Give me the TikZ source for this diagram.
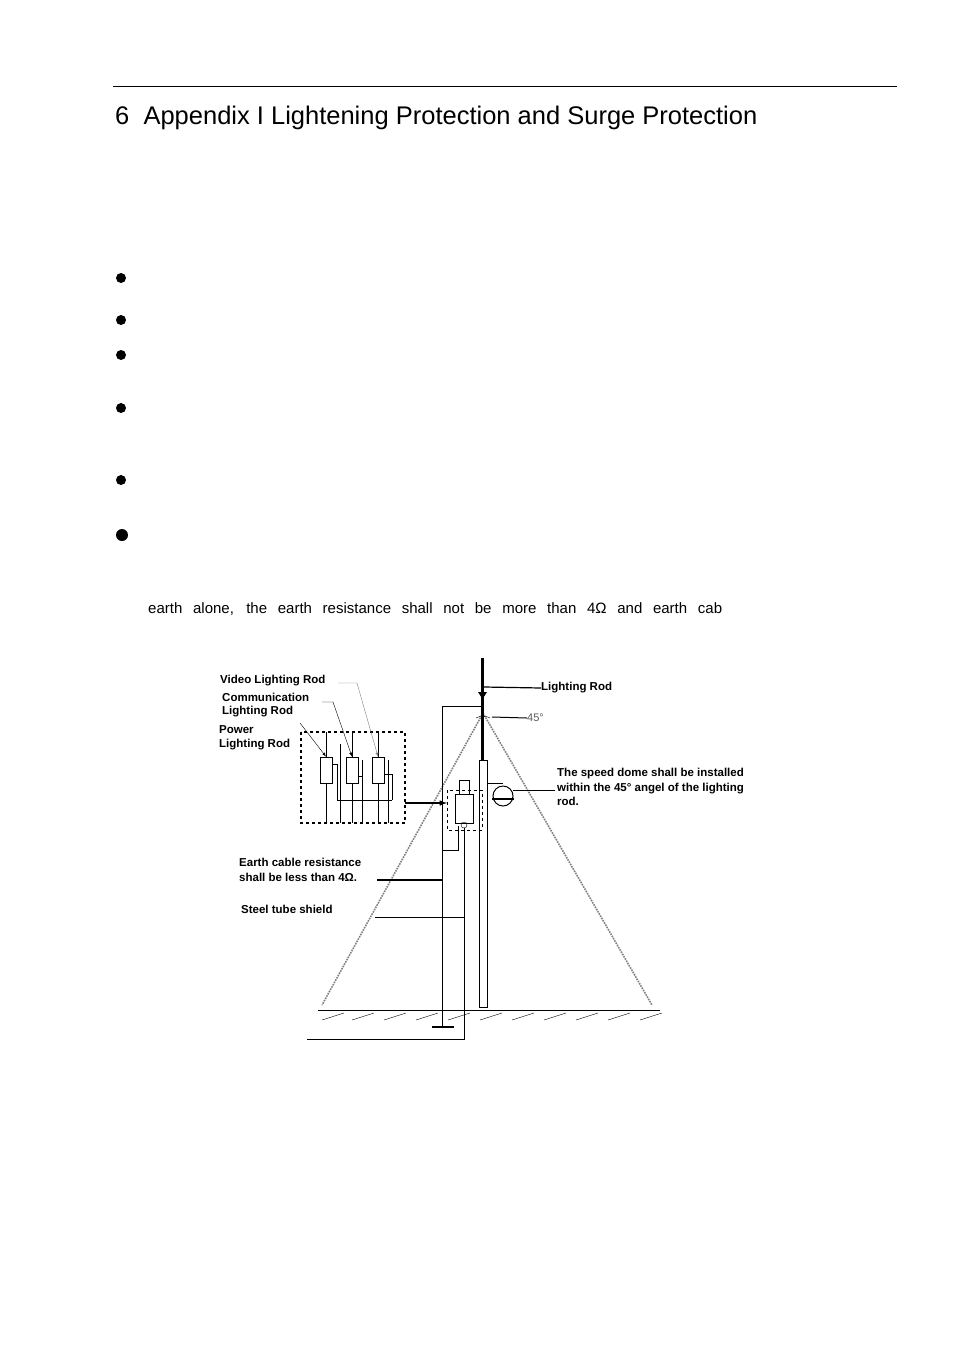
\documentclass[tikz,border=0pt]{standalone}
\usepackage{fontspec}
\setmainfont{Liberation Sans}
\begin{document}
\begin{tikzpicture}[x=1pt,y=-1pt,
  lbl/.style={font=\fontsize{11.5}{14.5}\selectfont\bfseries,anchor=west,inner sep=0pt},
  bul/.style={fill=black},
  dots/.style={gray,densely dotted,line width=1.6pt},
  rodbox/.style={draw,fill=white,line width=0.8pt}]
\useasboundingbox (0,0) rectangle (954,1350);
% header
\draw[line width=1pt] (113,86) -- (897,86);
\node[anchor=west,inner sep=0pt,font=\fontsize{25.5}{30}\selectfont] (title) at (115,118) {6\ \ Appendix I Lightening Protection and Surge Protection};
\foreach \yy in {278,320,355,408,480}{\fill[bul] (121,\yy) circle (5);}
\fill[bul] (122,535) circle (6);
\node[anchor=west,inner sep=0pt,font=\fontsize{15}{18}\selectfont] (para) at (148,609) {\makebox[574pt][s]{earth alone, the earth resistance shall not be more than 4Ω and earth cab}};
% 45 degree cone
\draw[dots] (483,713) -- (322,1005);
\draw[dots] (483,713) -- (652,1005);
\draw (476,718) arc (240:300:14);
% lightning rod and pole
\draw[line width=3pt] (482,658) -- (482,760);
\draw (479,760) rectangle (487,1007);
\fill (478,692) -- (487,692) -- (482.5,699) -- cycle;
\coordinate (lrA) at (484,687);
\node[lbl] (lr) at (541,688) {Lighting Rod};
\draw[line width=1.2pt] (lrA) -- (lr.west);
\coordinate (aA) at (492,717);
\node[anchor=west,inner sep=0pt,font=\fontsize{11}{13}\selectfont,gray!70!black] (deg) at (527,718) {45°};
\draw[line width=1pt] (aA) -- (deg.west);
% frame
\draw (482,706) -- (442,706) -- (442,1020);
% cabinet
\draw[dashed,line width=1pt] (447,790) rectangle (482,830);
\draw[line width=1pt] (455,794) rectangle (473,823);
\draw (459,794) -- (459,780) -- (469,780) -- (469,794);
\draw (464,825) circle (3);
\draw (442,850) -- (458,850) -- (458,826);
\draw[double,line width=0.6pt] (465,828) -- (465,1040) -- (307,1040);
% camera
\draw (487,783) -- (503,783);
\draw[line width=1pt] (503,796) circle (10);
\draw[line width=2pt] (492,799) -- (514,799);
\node[lbl,align=left,anchor=north west] (dome) at (557,768) {The speed dome shall be installed\\within the 45° angel of the lighting\\rod.};
\coordinate (dA) at (513,790);
\draw (dA) -- (555,790);
% ground
\draw (318,1010) -- (660,1010);
\foreach \xx in {322,352,384,416,448,480,512,544,576,608,640}{\draw (\xx,1020) -- (\xx+22,1013);}
\draw (442,1020) -- (442,1027);
\draw[line width=2pt] (432,1027) -- (454,1027);
% surge box
\draw[dashed,line width=1.2pt] (301,732) rectangle (405,823);
\draw (326,732) -- (326,823);
\draw (352,732) -- (352,823);
\draw (378,732) -- (378,823);
\draw (340,744) -- (340,823);
\draw (362,760) -- (362,823);
\draw (388,760) -- (388,823);
\draw (337,800) -- (392,800);
\node[rodbox,minimum width=12pt,minimum height=26pt,inner sep=0pt] (r1) at (326,770) {};
\node[rodbox,minimum width=12pt,minimum height=26pt,inner sep=0pt] (r2) at (352,770) {};
\node[rodbox,minimum width=12pt,minimum height=26pt,inner sep=0pt] (r3) at (378,770) {};
\draw (332,764) -- (337,764) -- (337,800);
\draw (358,776) -- (362,776);
\draw (384,774) -- (392,774) -- (392,800);
\coordinate (bxA) at (405,803);
\draw[line width=1.5pt,-latex] (bxA) -- (447,803);
% labels
\node[lbl] (vl) at (220,681) {Video Lighting Rod};
\node[lbl] (cl) at (222,697) {Communication};
\node[lbl] (cl2) at (222,712) {Lighting Rod};
\node[lbl] (pl) at (219,730) {Power};
\node[lbl] (pl2) at (219,745) {Lighting Rod};
\draw[gray,-latex] (338,683) -- (357,683) -- (r3.north);
\draw[-latex] (322,702) -- (333,702) -- (r2.north);
\draw[-latex] (300,723) -- (r1.north);
\node[lbl,align=left,anchor=north west] (ec) at (239,858) {Earth cable resistance\\shall be less than 4Ω.};
\draw[line width=1.5pt] (377,880) -- (442,880);
\node[lbl] (st) at (241,909) {Steel tube shield};
\draw (375,917) -- (464,917);
\end{tikzpicture}
\end{document}
